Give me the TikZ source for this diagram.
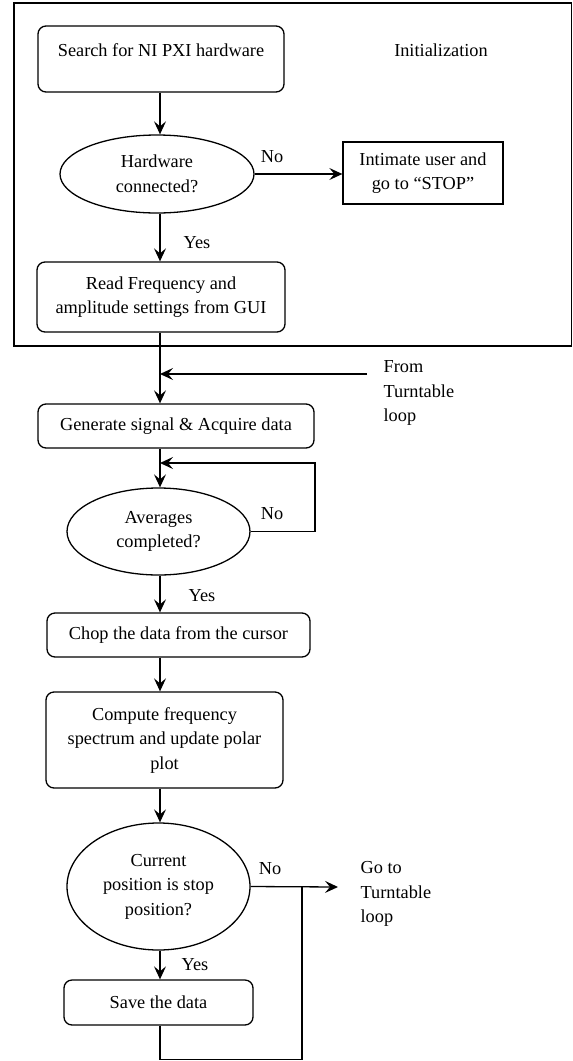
\documentclass[tikz,border=0pt]{standalone}
\usepackage{fontspec}
\setmainfont{Liberation Serif}
\usetikzlibrary{shapes.geometric,arrows.meta,calc}
\begin{document}
\begin{tikzpicture}[x=1pt,y=-1pt,
  every node/.style={font=\fontsize{18.3}{24.5}\selectfont},
  line width=1.3pt,
  rbox/.style={draw, rounded corners=8pt, align=center, inner sep=0pt},
  sbox/.style={draw, align=center, inner sep=0pt},
  dec/.style={draw, ellipse, align=center, inner sep=0pt},
  lbl/.style={inner sep=0pt},
  arr/.style={-{Stealth[length=13pt,width=12pt,inset=5pt]}}
]
\useasboundingbox (0,0) rectangle (573,1061);
\coordinate (X) at (160,0);
% initialization frame
\draw[line width=1.6pt] (14,3) rectangle (571.5,346);
\node[lbl] (init) at (441,50) {Initialization};
\node[rbox, minimum width=246pt, minimum height=66pt] (b1) at (161,59)
  {\raisebox{9pt}[\height][\depth]{Search for NI PXI hardware}};
\node[dec, minimum width=194pt, minimum height=78pt] (e1) at (157,174) {Hardware\\connected?};
\node[sbox, minimum width=160pt, minimum height=62pt] (stop) at (423,173) {Intimate user and\\go to “STOP”};
\node[rbox, minimum width=248pt, minimum height=70pt] (b3) at (161,297) {Read Frequency and\\amplitude settings from GUI};
\node[rbox, minimum width=276pt, minimum height=44pt] (b4) at (176,426) {Generate signal \& Acquire data};
\node[dec, minimum width=183pt, minimum height=87pt] (e2) at (158.5,531.5) {Averages\\completed?};
\node[rbox, minimum width=263pt, minimum height=44pt] (b5) at (178.5,635) {Chop the data from the cursor};
\node[rbox, minimum width=237pt, minimum height=96pt] (b6) at (164.5,740) {Compute frequency\\spectrum and update polar\\plot};
\node[dec, minimum width=183pt, minimum height=127pt] (e3) at (158.5,886.5) {Current\\position is stop\\position?};
\node[rbox, minimum width=189pt, minimum height=45pt] (b7) at (158.5,1002.5) {Save the data};
% labels
\node[lbl] (no1) at (272,157) {No};
\node[lbl] (yes1) at (197,243) {Yes};
\node[lbl] (no2) at (272,514) {No};
\node[lbl] (yes2) at (202,596) {Yes};
\node[lbl] (no3) at (270,869) {No};
\node[lbl] (yes3) at (195,965) {Yes};
\node[lbl, anchor=west, align=left] (from) at (383,393) {From\\Turntable\\loop};
\node[lbl, anchor=west, align=left] (goto) at (360,894) {Go to\\Turntable\\loop};
% coordinates
\coordinate (ft) at (367,374);
\coordinate (l1) at (315,463);
\coordinate (gt) at (338,887);
\coordinate (j) at (302,887);
\coordinate (bot) at (302,1059.5);
% connectors
\draw[arr] (b1.south -| X) -- (e1.north -| X);
\draw[arr] (e1.east) -- (e1.east -| stop.west);
\draw[arr] (e1.south -| X) -- (b3.north -| X);
\draw[arr] (b3.south -| X) -- (b4.north -| X);
\draw[arr] (ft) -- (ft -| X);
\draw[arr] (b4.south -| X) -- (e2.north -| X);
\draw[arr] (e2.east) -| (l1) -- (l1 -| X);
\draw[arr] (e2.south -| X) -- (b5.north -| X);
\draw[arr] (b5.south -| X) -- (b6.north -| X);
\draw[arr] (b6.south -| X) -- (e3.north -| X);
\draw[arr] (e3.east) -- (gt);
\draw[arr] (e3.south -| X) -- (b7.north -| X);
\draw (b7.south -| X) |- (bot) -- (j);
\end{tikzpicture}
\end{document}
